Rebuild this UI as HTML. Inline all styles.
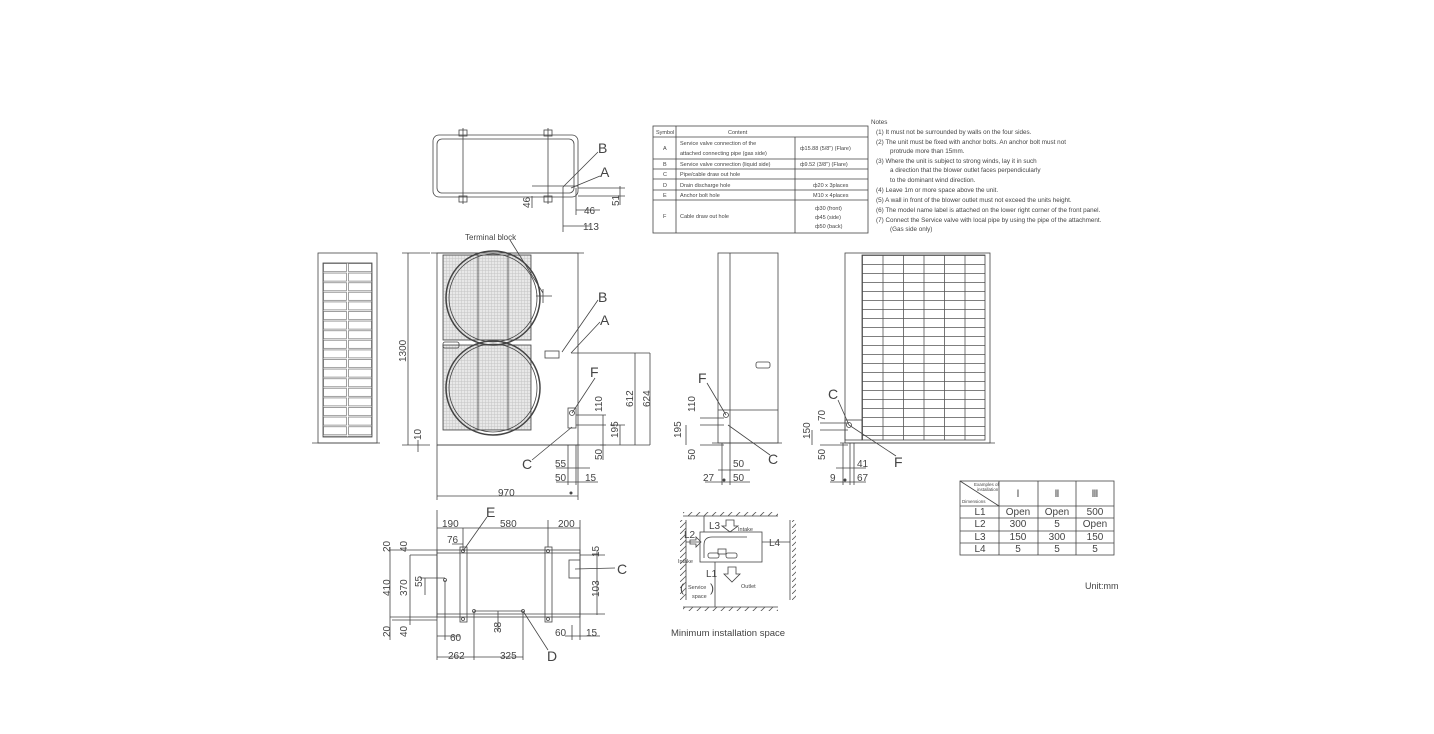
<!DOCTYPE html>
<html><head><meta charset="utf-8"><style>
html,body{margin:0;padding:0;background:#fff;}
svg{display:block;font-family:"Liberation Sans",sans-serif;}
text{fill:#444;}
.d{font-size:10px;}
.L{font-size:14px;fill:#222;}
.s{font-size:5.5px;fill:#666;}
.n{font-size:6.3px;fill:#666;}
</style></head><body>
<svg width="1434" height="734" viewBox="0 0 1434 734" xmlns="http://www.w3.org/2000/svg">
<defs>
<pattern id="lg" x="323" y="263" width="25" height="9.6" patternUnits="userSpaceOnUse"><rect x="0.5" y="0.5" width="23" height="8" fill="none" stroke="#777" stroke-width="0.7"/></pattern>
<pattern id="fg" x="443" y="255" width="3" height="3" patternUnits="userSpaceOnUse"><rect width="3" height="3" fill="#e8e8e8"/><path d="M0 0.5H3M0.5 0V3" stroke="#c4c4c4" stroke-width="0.5"/></pattern>
<pattern id="bg" x="862" y="255" width="20.5" height="9" patternUnits="userSpaceOnUse"><path d="M0 0.5H20.5M0.5 0V9" stroke="#555" stroke-width="0.8"/></pattern>
<pattern id="ht" width="8" height="6" patternUnits="userSpaceOnUse"><path d="M0 6L6 0" stroke="#555" stroke-width="0.8"/></pattern>
</defs>
<g fill="none" stroke="#444" stroke-width="0.8">
<rect x="433" y="135" width="145" height="62" rx="6"/>
<rect x="437" y="139" width="137" height="54" rx="5"/>
<rect x="459" y="130" width="8" height="6"/><rect x="544" y="130" width="8" height="6"/>
<rect x="459" y="196" width="8" height="6"/><rect x="544" y="196" width="8" height="6"/>
<path d="M463 128V204M548 128V204"/>
<path d="M563 187L598 152M571 188L600 176"/>
<path d="M563 187V232M576 188V215M563 226H590M576 210H600M532 186H578M532 196V208M578 196H625M578 188H625M620 186V205"/>
<rect x="653" y="126" width="215" height="107"/>
<path d="M653 137H868M653 159H868M653 169H868M653 179H868M653 190H868M653 200H868M676 126V233M795 137V233"/>
<rect x="318" y="253" width="59" height="190"/>
<rect x="323" y="263" width="49" height="174" fill="url(#lg)"/>
<path d="M312 443H380"/>
<rect x="437" y="253" width="141" height="192"/>
<path d="M431 253H584M437 445H580"/>
<rect x="443" y="255" width="88" height="85" fill="url(#fg)"/>
<rect x="443" y="345" width="88" height="85" fill="url(#fg)"/>
<circle cx="493" cy="298" r="47" stroke-width="1.5" fill="none"/><circle cx="493" cy="298" r="44"/>
<circle cx="493" cy="388" r="47" stroke-width="1.5" fill="none"/><circle cx="493" cy="388" r="44"/>
<path d="M478 255V340M508 255V340M478 345V430M508 345V430"/>
<rect x="443" y="342" width="16" height="6" rx="2"/>
<rect x="545" y="351" width="14" height="7"/>
<path d="M536 296H552M543 289V303M510 240L543 293M562 352L598 300M571 353L600 322"/>
<path d="M408 253V445M402 253H430M402 445H430M418 440V452M437 445V500M578 445V500M437 496H578"/>
<path d="M571 353H650M635 353V445M650 353V445M600 445H650"/>
<rect x="568" y="408" width="8" height="20"/><circle cx="572" cy="413" r="2.5"/>
<path d="M572 413L595 378M572 427L532 460M576 415H606M576 425H606M603 415V460M576 445H606M620 425V445M610 425H625"/>
<path d="M568 445V485M576 445V485M556 468H590M556 482H598"/>
<rect x="718" y="253" width="60" height="190"/>
<path d="M730 253V443M718 410H778M712 443H782"/>
<rect x="756" y="362" width="14" height="6" rx="2"/>
<circle cx="726" cy="415" r="2.5"/>
<path d="M726 415L707 383M728 425L770 455M700 418H724M700 425H724M686 425V445M700 445H724M722 443V485M730 443V485M718 470H750M705 482H750"/>
<rect x="845" y="253" width="145" height="190"/>
<rect x="862" y="255" width="123" height="185" fill="url(#bg)"/>
<rect x="845" y="420" width="17" height="20"/>
<path d="M840 443H995"/>
<circle cx="849" cy="425" r="2.5"/>
<path d="M849 425L838 400M849 425L896 456M820 423H848M820 430H848M812 430V445M820 445H848M843 443V485M850 443V485M854 443V485M836 468H866M830 482H866"/>
<rect x="437" y="550" width="143" height="67"/>
<path d="M437 553H580M437 614H580"/>
<rect x="460" y="547" width="7" height="75"/><rect x="545" y="547" width="7" height="75"/>
<circle cx="463" cy="551" r="1.5"/><circle cx="463" cy="619" r="1.5"/><circle cx="548" cy="551" r="1.5"/><circle cx="548" cy="619" r="1.5"/>
<circle cx="445" cy="580" r="1.5"/><circle cx="474" cy="611" r="1.5"/><circle cx="523" cy="611" r="1.5"/>
<rect x="569" y="560" width="11" height="18"/>
<path d="M463 551L487 517M523 611L548 650M575 569L615 568"/>
<path d="M437 528H580M437 510V660M463 528V550M548 520V547M580 520V640M452 544H463M390 550H437M390 617H437M390 547V640M410 555V625M392 620H437M410 555H437M425 578V595M420 578H445M445 580V640M437 636H460M474 611V660M523 611V660M437 657H523M474 611H523M498 611V632M565 636H600M572 625V640M580 555H605M597 550V615M580 614H605"/>
<path d="M683 516H778M683 607H778M686 520V600M790 520V600"/>
<rect x="683" y="512" width="95" height="4" fill="url(#ht)" stroke="none"/>
<rect x="683" y="607" width="95" height="4" fill="url(#ht)" stroke="none"/>
<rect x="680" y="520" width="6" height="80" fill="url(#ht)" stroke="none"/>
<rect x="790" y="520" width="6" height="80" fill="url(#ht)" stroke="none"/>
<rect x="700" y="532" width="62" height="30"/>
<path d="M704 558V545Q704 537 712 537H747"/>
<rect x="718" y="549" width="8" height="5"/><rect x="708" y="553" width="11" height="5" rx="2"/><rect x="726" y="553" width="11" height="5" rx="2"/>
<path d="M704 516V532M686 542H700M762 542H790M715 562V607"/>
<path d="M726 520H734V526H738L730 532L722 526H726Z M690 540H696V537L701 542L696 547V544H690Z M728 567H736V574H740L732 582L724 574H728Z"/>
<rect x="960" y="481" width="154" height="74"/>
<path d="M960 506H1114M960 518H1114M960 531H1114M960 543H1114M999 481V555M1038 481V555M1076 481V555M960 481L999 506"/>
</g>
<g fill="#444"><circle cx="571" cy="493" r="1.5"/><circle cx="724" cy="480" r="1.5"/><circle cx="845" cy="480" r="1.5"/></g>
<g class="L"><text x="598" y="153">B</text><text x="600" y="177">A</text>
<text x="598" y="302">B</text><text x="600" y="325">A</text><text x="590" y="377">F</text><text x="522" y="469">C</text>
<text x="698" y="383">F</text><text x="768" y="464">C</text><text x="828" y="399">C</text><text x="894" y="467">F</text>
<text x="486" y="517">E</text><text x="547" y="661">D</text><text x="617" y="574">C</text></g>
<g class="d">
<text x="584" y="214">46</text><text x="583" y="230">113</text>
<text transform="translate(530,208) rotate(-90)">46</text><text transform="translate(619,206) rotate(-90)">51</text>
<text x="465" y="240" font-size="8">Terminal block</text>
<text transform="translate(406,362) rotate(-90)">1300</text><text transform="translate(421,440) rotate(-90)">10</text>
<text x="498" y="496">970</text>
<text transform="translate(633,407) rotate(-90)">612</text><text transform="translate(650,407) rotate(-90)">624</text>
<text transform="translate(602,412) rotate(-90)">110</text><text transform="translate(618,438) rotate(-90)">195</text><text transform="translate(602,460) rotate(-90)">50</text>
<text x="555" y="467">55</text><text x="555" y="481">50</text><text x="585" y="481">15</text>
<text transform="translate(695,412) rotate(-90)">110</text><text transform="translate(681,438) rotate(-90)">195</text><text transform="translate(695,460) rotate(-90)">50</text>
<text x="733" y="467">50</text><text x="703" y="481">27</text><text x="733" y="481">50</text>
<text transform="translate(825,421) rotate(-90)">70</text><text transform="translate(810,439) rotate(-90)">150</text><text transform="translate(825,460) rotate(-90)">50</text>
<text x="857" y="467">41</text><text x="830" y="481">9</text><text x="857" y="481">67</text>
<text x="442" y="527">190</text><text x="500" y="527">580</text><text x="558" y="527">200</text><text x="447" y="543">76</text>
<text transform="translate(390,552) rotate(-90)">20</text><text transform="translate(407,552) rotate(-90)">40</text>
<text transform="translate(390,596) rotate(-90)">410</text><text transform="translate(407,596) rotate(-90)">370</text><text transform="translate(422,587) rotate(-90)">55</text>
<text transform="translate(390,637) rotate(-90)">20</text><text transform="translate(407,637) rotate(-90)">40</text>
<text x="450" y="641">60</text><text transform="translate(501,633) rotate(-90)">38</text>
<text x="448" y="659">262</text><text x="500" y="659">325</text>
<text transform="translate(599,557) rotate(-90)">15</text><text transform="translate(599,597) rotate(-90)">103</text>
<text x="555" y="636">60</text><text x="586" y="636">15</text>
<text x="709" y="529">L3</text><text x="684" y="538">L2</text><text x="769" y="546">L4</text><text x="706" y="577">L1</text>
<text x="671" y="636" font-size="9.5">Minimum installation space</text>
<text x="1085" y="589" font-size="9">Unit:mm</text>
</g>
<g class="s">
<text x="738" y="531">Intake</text><text x="678" y="563">Intake</text><text x="741" y="588">Outlet</text>
<text x="688" y="589">Service</text><text x="692" y="598">space</text>
<text x="680" y="592" font-size="12">(</text><text x="710" y="592" font-size="12">)</text>
</g>
<g class="s">
<text x="656" y="134">Symbol</text><text x="728" y="134">Content</text>
<text x="663" y="150">A</text><text x="680" y="145">Service valve connection of the</text><text x="680" y="155">attached connecting pipe  (gas side)</text><text x="800" y="150">ф15.88 (5/8") (Flare)</text>
<text x="663" y="166">B</text><text x="680" y="166">Service valve connection  (liquid side)</text><text x="800" y="166">ф9.52 (3/8") (Flare)</text>
<text x="663" y="176">C</text><text x="680" y="176">Pipe/cable draw out hole</text>
<text x="663" y="187">D</text><text x="680" y="187">Drain discharge hole</text><text x="813" y="187">ф20 x 3places</text>
<text x="663" y="197">E</text><text x="680" y="197">Anchor bolt hole</text><text x="813" y="197">M10 x 4places</text>
<text x="663" y="218">F</text><text x="680" y="218">Cable draw out hole</text><text x="815" y="210">ф30 (front)</text><text x="815" y="219">ф45 (side)</text><text x="815" y="228">ф50 (back)</text>
<text x="974" y="486" font-size="4.5">Examples of</text><text x="977" y="491" font-size="4.5">installation</text><text x="962" y="503" font-size="4.5">Dimensions</text>
</g>
<g class="d" font-size="6.5" text-anchor="middle">
<text x="1018" y="497">Ⅰ</text><text x="1057" y="497">Ⅱ</text><text x="1095" y="497">Ⅲ</text>
<text x="980" y="515">L1</text><text x="1018" y="515">Open</text><text x="1057" y="515">Open</text><text x="1095" y="515">500</text>
<text x="980" y="527">L2</text><text x="1018" y="527">300</text><text x="1057" y="527">5</text><text x="1095" y="527">Open</text>
<text x="980" y="540">L3</text><text x="1018" y="540">150</text><text x="1057" y="540">300</text><text x="1095" y="540">150</text>
<text x="980" y="552">L4</text><text x="1018" y="552">5</text><text x="1057" y="552">5</text><text x="1095" y="552">5</text>
</g>
<g class="n">
<text x="871" y="124">Notes</text>
<text x="876" y="134">(1)   It must not be surrounded by walls on the four sides.</text>
<text x="876" y="144">(2)   The unit must be fixed with anchor bolts. An anchor bolt must not</text>
<text x="890" y="153">protrude more than 15mm.</text>
<text x="876" y="163">(3)   Where the unit is subject to strong winds, lay it in such</text>
<text x="890" y="172">a direction that the blower outlet faces perpendicularly</text>
<text x="890" y="182">to the dominant wind direction.</text>
<text x="876" y="192">(4)   Leave 1m or more space above the unit.</text>
<text x="876" y="202">(5)   A wall in front of the blower outlet must not exceed the units height.</text>
<text x="876" y="212">(6)   The model name label is attached on the lower right corner of the front panel.</text>
<text x="876" y="222">(7)   Connect the Service valve with local pipe by using the pipe of the attachment.</text>
<text x="890" y="231">(Gas side only)</text>
</g>
</svg>
</body></html>
